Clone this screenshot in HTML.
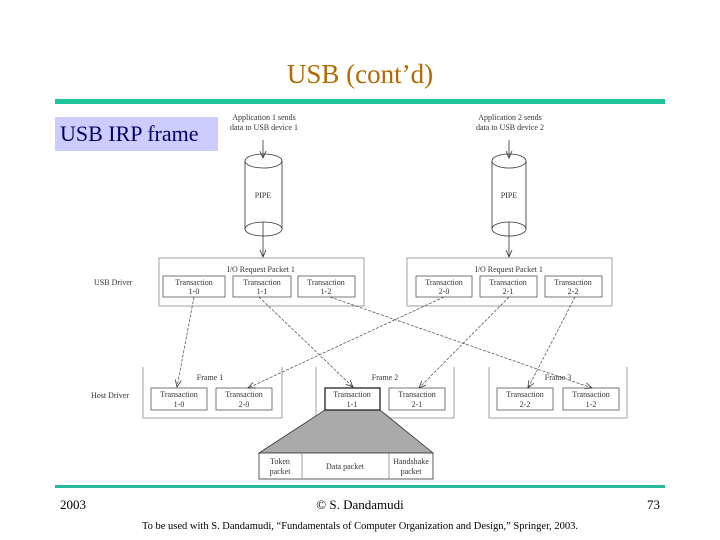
<!DOCTYPE html>
<html><head><style>
body{margin:0;width:720px;height:540px;background:#fff;overflow:hidden}
svg{display:block}
</style></head><body>
<svg width="720" height="540" xmlns="http://www.w3.org/2000/svg" font-family="Liberation Serif, serif">
<defs><marker id="a" markerWidth="8" markerHeight="8" refX="7" refY="4" orient="auto" markerUnits="userSpaceOnUse"><path d="M0,1 L7,4 L0,7" fill="none" stroke="#333" stroke-width="0.8"/></marker></defs>
<text x="360" y="83" text-anchor="middle" font-size="27" fill="#b26a00">USB (cont’d)</text>
<rect x="55" y="99" width="610" height="5" fill="#1cc49a"/>
<rect x="55" y="117" width="163" height="34" fill="#ccccff"/>
<text x="60" y="141" font-size="22" fill="#000066">USB IRP frame</text>

<g font-size="8" fill="#333" text-anchor="middle">
<text x="264" y="120">Application 1 sends</text><text x="264" y="130">data to USB device 1</text>
<text x="510" y="120">Application 2 sends</text><text x="510" y="130">data to USB device 2</text>
<text x="263" y="198">PIPE</text><text x="509" y="198">PIPE</text>
</g>
<g stroke="#333" stroke-width="0.8" fill="none">
<line x1="263" y1="140" x2="263" y2="158" marker-end="url(#a)"/>
<line x1="509" y1="140" x2="509" y2="158" marker-end="url(#a)"/>
<ellipse cx="263.5" cy="161" rx="18.5" ry="7"/><line x1="245" y1="161" x2="245" y2="229"/><line x1="282" y1="161" x2="282" y2="229"/><ellipse cx="263.5" cy="229" rx="18.5" ry="7"/>
<ellipse cx="509" cy="161" rx="17" ry="7"/><line x1="492" y1="161" x2="492" y2="229"/><line x1="526" y1="161" x2="526" y2="229"/><ellipse cx="509" cy="229" rx="17" ry="7"/>
<line x1="263" y1="222" x2="263" y2="257" marker-end="url(#a)"/>
<line x1="509" y1="222" x2="509" y2="257" marker-end="url(#a)"/>
<rect x="159" y="258" width="205" height="48" stroke="#888"/>
<rect x="407" y="258" width="205" height="48" stroke="#888"/>
<rect x="163" y="276" width="62" height="21" stroke="#555"/><rect x="233" y="276" width="58" height="21" stroke="#555"/><rect x="298" y="276" width="57" height="21" stroke="#555"/>
<rect x="416" y="276" width="56" height="21" stroke="#555"/><rect x="480" y="276" width="57" height="21" stroke="#555"/><rect x="545" y="276" width="57" height="21" stroke="#555"/>
<path d="M143,367 V418 H282 V367 M316,367 V418 H454 V367 M489,367 V418 H627 V367" stroke="#888"/>
<rect x="151" y="388" width="56" height="22" stroke="#555"/><rect x="216" y="388" width="56" height="22" stroke="#555"/>
<rect x="389" y="388" width="56" height="22" stroke="#555"/>
<rect x="497" y="388" width="56" height="22" stroke="#555"/><rect x="563" y="388" width="56" height="22" stroke="#555"/>
</g>
<path d="M325,410 L380,410 L433,453 L259,453 Z" fill="#aaa" stroke="#333" stroke-width="0.8"/>
<rect x="325" y="388" width="55" height="22" fill="#fff" stroke="#222" stroke-width="1.3"/>
<rect x="259" y="453" width="174" height="26" fill="#fff" stroke="#333" stroke-width="0.8"/>
<line x1="302" y1="453" x2="302" y2="479" stroke="#888" stroke-width="0.8"/>
<line x1="389" y1="453" x2="389" y2="479" stroke="#888" stroke-width="0.8"/>
<g stroke="#444" stroke-width="0.7" stroke-dasharray="3,1.5" fill="none">
<line x1="194" y1="297" x2="177" y2="387" marker-end="url(#a)"/>
<line x1="259" y1="297" x2="353" y2="387" marker-end="url(#a)"/>
<line x1="330" y1="297" x2="592" y2="388" marker-end="url(#a)"/>
<line x1="444" y1="297" x2="248" y2="388" marker-end="url(#a)"/>
<line x1="509" y1="297" x2="419" y2="388" marker-end="url(#a)"/>
<line x1="575" y1="297" x2="528" y2="388" marker-end="url(#a)"/>
</g>
<g font-size="8" fill="#333" text-anchor="middle">
<text x="261" y="272">I/O Request Packet 1</text><text x="509" y="272">I/O Request Packet 1</text>
<text x="194" y="285">Transaction</text><text x="194" y="294">1-0</text>
<text x="262" y="285">Transaction</text><text x="262" y="294">1-1</text>
<text x="326" y="285">Transaction</text><text x="326" y="294">1-2</text>
<text x="444" y="285">Transaction</text><text x="444" y="294">2-0</text>
<text x="508" y="285">Transaction</text><text x="508" y="294">2-1</text>
<text x="573" y="285">Transaction</text><text x="573" y="294">2-2</text>
<text x="210" y="380">Frame 1</text><text x="385" y="380">Frame 2</text><text x="558" y="380">Frame 3</text>
<text x="179" y="397">Transaction</text><text x="179" y="407">1-0</text>
<text x="244" y="397">Transaction</text><text x="244" y="407">2-0</text>
<text x="352" y="397">Transaction</text><text x="352" y="407">1-1</text>
<text x="417" y="397">Transaction</text><text x="417" y="407">2-1</text>
<text x="525" y="397">Transaction</text><text x="525" y="407">2-2</text>
<text x="591" y="397">Transaction</text><text x="591" y="407">1-2</text>
<text x="280" y="464">Token</text><text x="280" y="474">packet</text>
<text x="345" y="469">Data packet</text>
<text x="411" y="464">Handshake</text><text x="411" y="474">packet</text>
</g>
<g font-size="8" fill="#333"><text x="94" y="285">USB Driver</text><text x="91" y="398">Host Driver</text></g>
<rect x="55" y="485" width="610" height="3" fill="#2ab898"/>
<g font-size="13" fill="#000"><text x="60" y="509">2003</text><text x="360" y="509" text-anchor="middle">© S. Dandamudi</text><text x="660" y="509" text-anchor="end">73</text></g>
<text x="360" y="529" font-size="10.5" text-anchor="middle">To be used with S. Dandamudi, “Fundamentals of Computer Organization and Design,” Springer, 2003.</text>
</svg>
</body></html>
